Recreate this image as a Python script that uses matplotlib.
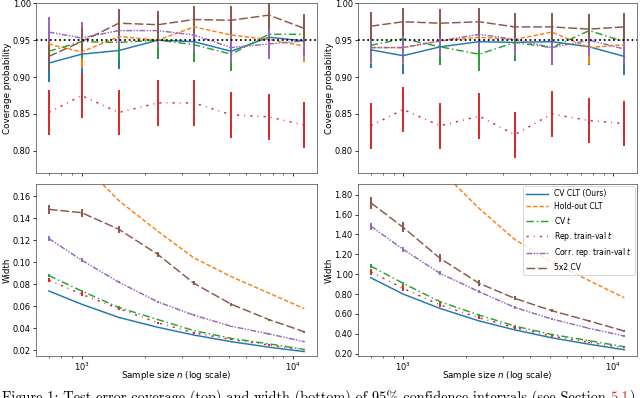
import matplotlib
matplotlib.use("Agg")
import matplotlib.pyplot as plt
from matplotlib.ticker import FormatStrFormatter, MultipleLocator

n_values = [700, 1000, 1500, 2300, 3400, 5100, 7700, 11300]

labels = ['CV CLT (Ours)', 'Hold-out CLT', 'CV $t$', 'Rep. train-val $t$',
          'Corr. rep. train-val $t$', '5x2 CV']
colors = ['#1f77b4', '#ff7f0e', '#2ca02c', '#d62728', '#9467bd', '#8c564b']
styles = ['-', (0, (3, 1.5)), (0, (5, 2, 1, 2)), (0, (1.5, 3.5, 0.6, 3.5)),
          (0, (4, 1, 1, 1, 1, 1)), (0, (6, 2))]

# coverage, left dataset
cov_left = [
    [0.919, 0.931, 0.936, 0.950, 0.948, 0.935, 0.954, 0.949],
    [0.945, 0.934, 0.955, 0.950, 0.968, 0.957, 0.951, 0.942],
    [0.935, 0.948, 0.947, 0.950, 0.944, 0.931, 0.958, 0.958],
    [0.852, 0.875, 0.852, 0.865, 0.865, 0.849, 0.846, 0.835],
    [0.961, 0.953, 0.963, 0.963, 0.957, 0.940, 0.945, 0.949],
    [0.928, 0.948, 0.973, 0.971, 0.978, 0.977, 0.984, 0.966],
]
# coverage, right dataset
cov_right = [
    [0.937, 0.929, 0.941, 0.948, 0.947, 0.948, 0.941, 0.928],
    [0.940, 0.940, 0.949, 0.954, 0.951, 0.961, 0.940, 0.944],
    [0.943, 0.952, 0.941, 0.931, 0.947, 0.940, 0.963, 0.948],
    [0.834, 0.856, 0.834, 0.847, 0.822, 0.850, 0.841, 0.837],
    [0.940, 0.940, 0.949, 0.958, 0.951, 0.940, 0.950, 0.938],
    [0.969, 0.975, 0.973, 0.975, 0.968, 0.968, 0.965, 0.968],
]
# half width of the coverage error bars, one per method
cov_err = [0.025, 0.022, 0.023, 0.031, 0.021, 0.019]

# interval width, left dataset
width_left = [
    [0.074, 0.062, 0.050, 0.041, 0.034, 0.028, 0.023, 0.019],
    [0.230, 0.190, 0.156, 0.128, 0.104, 0.087, 0.072, 0.058],
    [0.088, 0.074, 0.059, 0.048, 0.038, 0.031, 0.026, 0.021],
    [0.084, 0.071, 0.058, 0.045, 0.036, 0.030, 0.025, 0.0205],
    [0.1215, 0.102, 0.082, 0.064, 0.052, 0.042, 0.035, 0.028],
    [0.148, 0.145, 0.130, 0.107, 0.081, 0.062, 0.048, 0.037],
]
width_left_err = [
    [0, 0, 0, 0, 0, 0, 0, 0],
    [0, 0, 0, 0, 0, 0, 0, 0],
    [0.001, 0.001, 0.001, 0, 0, 0, 0, 0],
    [0.002, 0.002, 0.001, 0.001, 0.001, 0.0005, 0.0005, 0.0005],
    [0.002, 0.0015, 0.0012, 0.001, 0.0008, 0.0006, 0.0005, 0.0004],
    [0.004, 0.0035, 0.003, 0.0025, 0.002, 0.0015, 0.001, 0.0008],
]

# interval width, right dataset
width_right = [
    [0.965, 0.800, 0.655, 0.530, 0.440, 0.360, 0.295, 0.240],
    [3.000, 2.500, 2.050, 1.662, 1.350, 1.120, 0.935, 0.763],
    [1.082, 0.908, 0.723, 0.589, 0.478, 0.394, 0.331, 0.270],
    [1.025, 0.857, 0.690, 0.562, 0.462, 0.378, 0.314, 0.260],
    [1.485, 1.250, 1.008, 0.824, 0.666, 0.549, 0.455, 0.378],
    [1.720, 1.471, 1.159, 0.908, 0.757, 0.633, 0.529, 0.428],
]
width_right_err = [
    [0, 0, 0, 0, 0, 0, 0, 0],
    [0, 0, 0, 0, 0, 0, 0, 0],
    [0.02, 0.015, 0.012, 0.01, 0.008, 0.006, 0.005, 0.004],
    [0.03, 0.03, 0.02, 0.015, 0.012, 0.01, 0.008, 0.006],
    [0.035, 0.025, 0.02, 0.015, 0.012, 0.01, 0.008, 0.006],
    [0.06, 0.05, 0.04, 0.03, 0.02, 0.015, 0.012, 0.01],
]

caption_parts = [("Figure 1: Test error coverage (top) and width (bottom) of 95% "
                  "confidence intervals (see Section ", 'black'),
                 ("5.1", '#d62728'), (")", 'black')]

plt.rcParams['font.size'] = 9
plt.rcParams['xtick.labelsize'] = 8.5
plt.rcParams['ytick.labelsize'] = 8.5
plt.rcParams['xtick.major.size'] = 3
plt.rcParams['xtick.major.pad'] = 2
plt.rcParams['ytick.major.size'] = 3
plt.rcParams['ytick.major.pad'] = 2.5

fig = plt.figure(figsize=(640 / 70, 398 / 70), dpi=70)

W = 640.0
H = 398.0
def box(x0, y0, x1, y1):
    return [x0 / W, 1 - y1 / H, (x1 - x0) / W, (y1 - y0) / H]

ax_tl = fig.add_axes(box(36, 3.3, 317, 173))
ax_tr = fig.add_axes(box(358, 3.3, 637, 173))
ax_bl = fig.add_axes(box(36, 184, 317, 356), sharex=ax_tl)
ax_br = fig.add_axes(box(358, 184, 637, 356), sharex=ax_tr)


def draw(ax, data, errs):
    handles = []
    for i in range(len(data)):
        e = errs[i] if isinstance(errs[i], list) else [errs[i]] * len(n_values)
        c = ax.errorbar(n_values, data[i], yerr=e, color=colors[i], ls=styles[i],
                        lw=1.5, elinewidth=2, label=labels[i])
        handles.append(c[0])
    return handles


draw(ax_tl, cov_left, cov_err)
draw(ax_tr, cov_right, cov_err)
draw(ax_bl, width_left, width_left_err)
line_handles = draw(ax_br, width_right, width_right_err)

for ax in [ax_tl, ax_tr]:
    ax.axhline(0.95, color='black', ls=':', lw=1.8, zorder=5)
    ax.set_ylim(0.77, 1.0)
    ax.yaxis.set_major_locator(MultipleLocator(0.05))
    ax.yaxis.set_major_formatter(FormatStrFormatter('%.2f'))
    ax.set_ylabel('Coverage probability', labelpad=1)
    ax.tick_params(labelbottom=False)

ax_bl.set_ylim(0.015, 0.171)
ax_bl.yaxis.set_major_locator(MultipleLocator(0.02))
ax_bl.yaxis.set_major_formatter(FormatStrFormatter('%.2f'))
ax_br.set_ylim(0.177, 1.908)
ax_br.yaxis.set_major_locator(MultipleLocator(0.2))
ax_br.yaxis.set_major_formatter(FormatStrFormatter('%.2f'))

for ax in [ax_bl, ax_br]:
    ax.set_xscale('log')
    ax.set_ylabel('Width', labelpad=1)
    ax.set_xlabel('Sample size $n$ (log scale)', labelpad=-4)

for ax in [ax_tl, ax_tr, ax_bl, ax_br]:
    for s in ax.spines.values():
        s.set_edgecolor('0.35')

ax_br.legend(handles=line_handles, labels=labels, loc='upper right',
             fontsize=7.8, handlelength=2.8, borderaxespad=0.3)

# caption, cut off by the bottom of the picture
fig.canvas.draw()
renderer = fig.canvas.get_renderer()
x = 2
for txt, col in caption_parts:
    t = fig.text(x / W, -3.5 / H, txt, color=col, family='cmr10',
                 fontsize=14.85, va='baseline', ha='left')
    x += t.get_window_extent(renderer).width

fig.savefig('out.png', dpi=70)
